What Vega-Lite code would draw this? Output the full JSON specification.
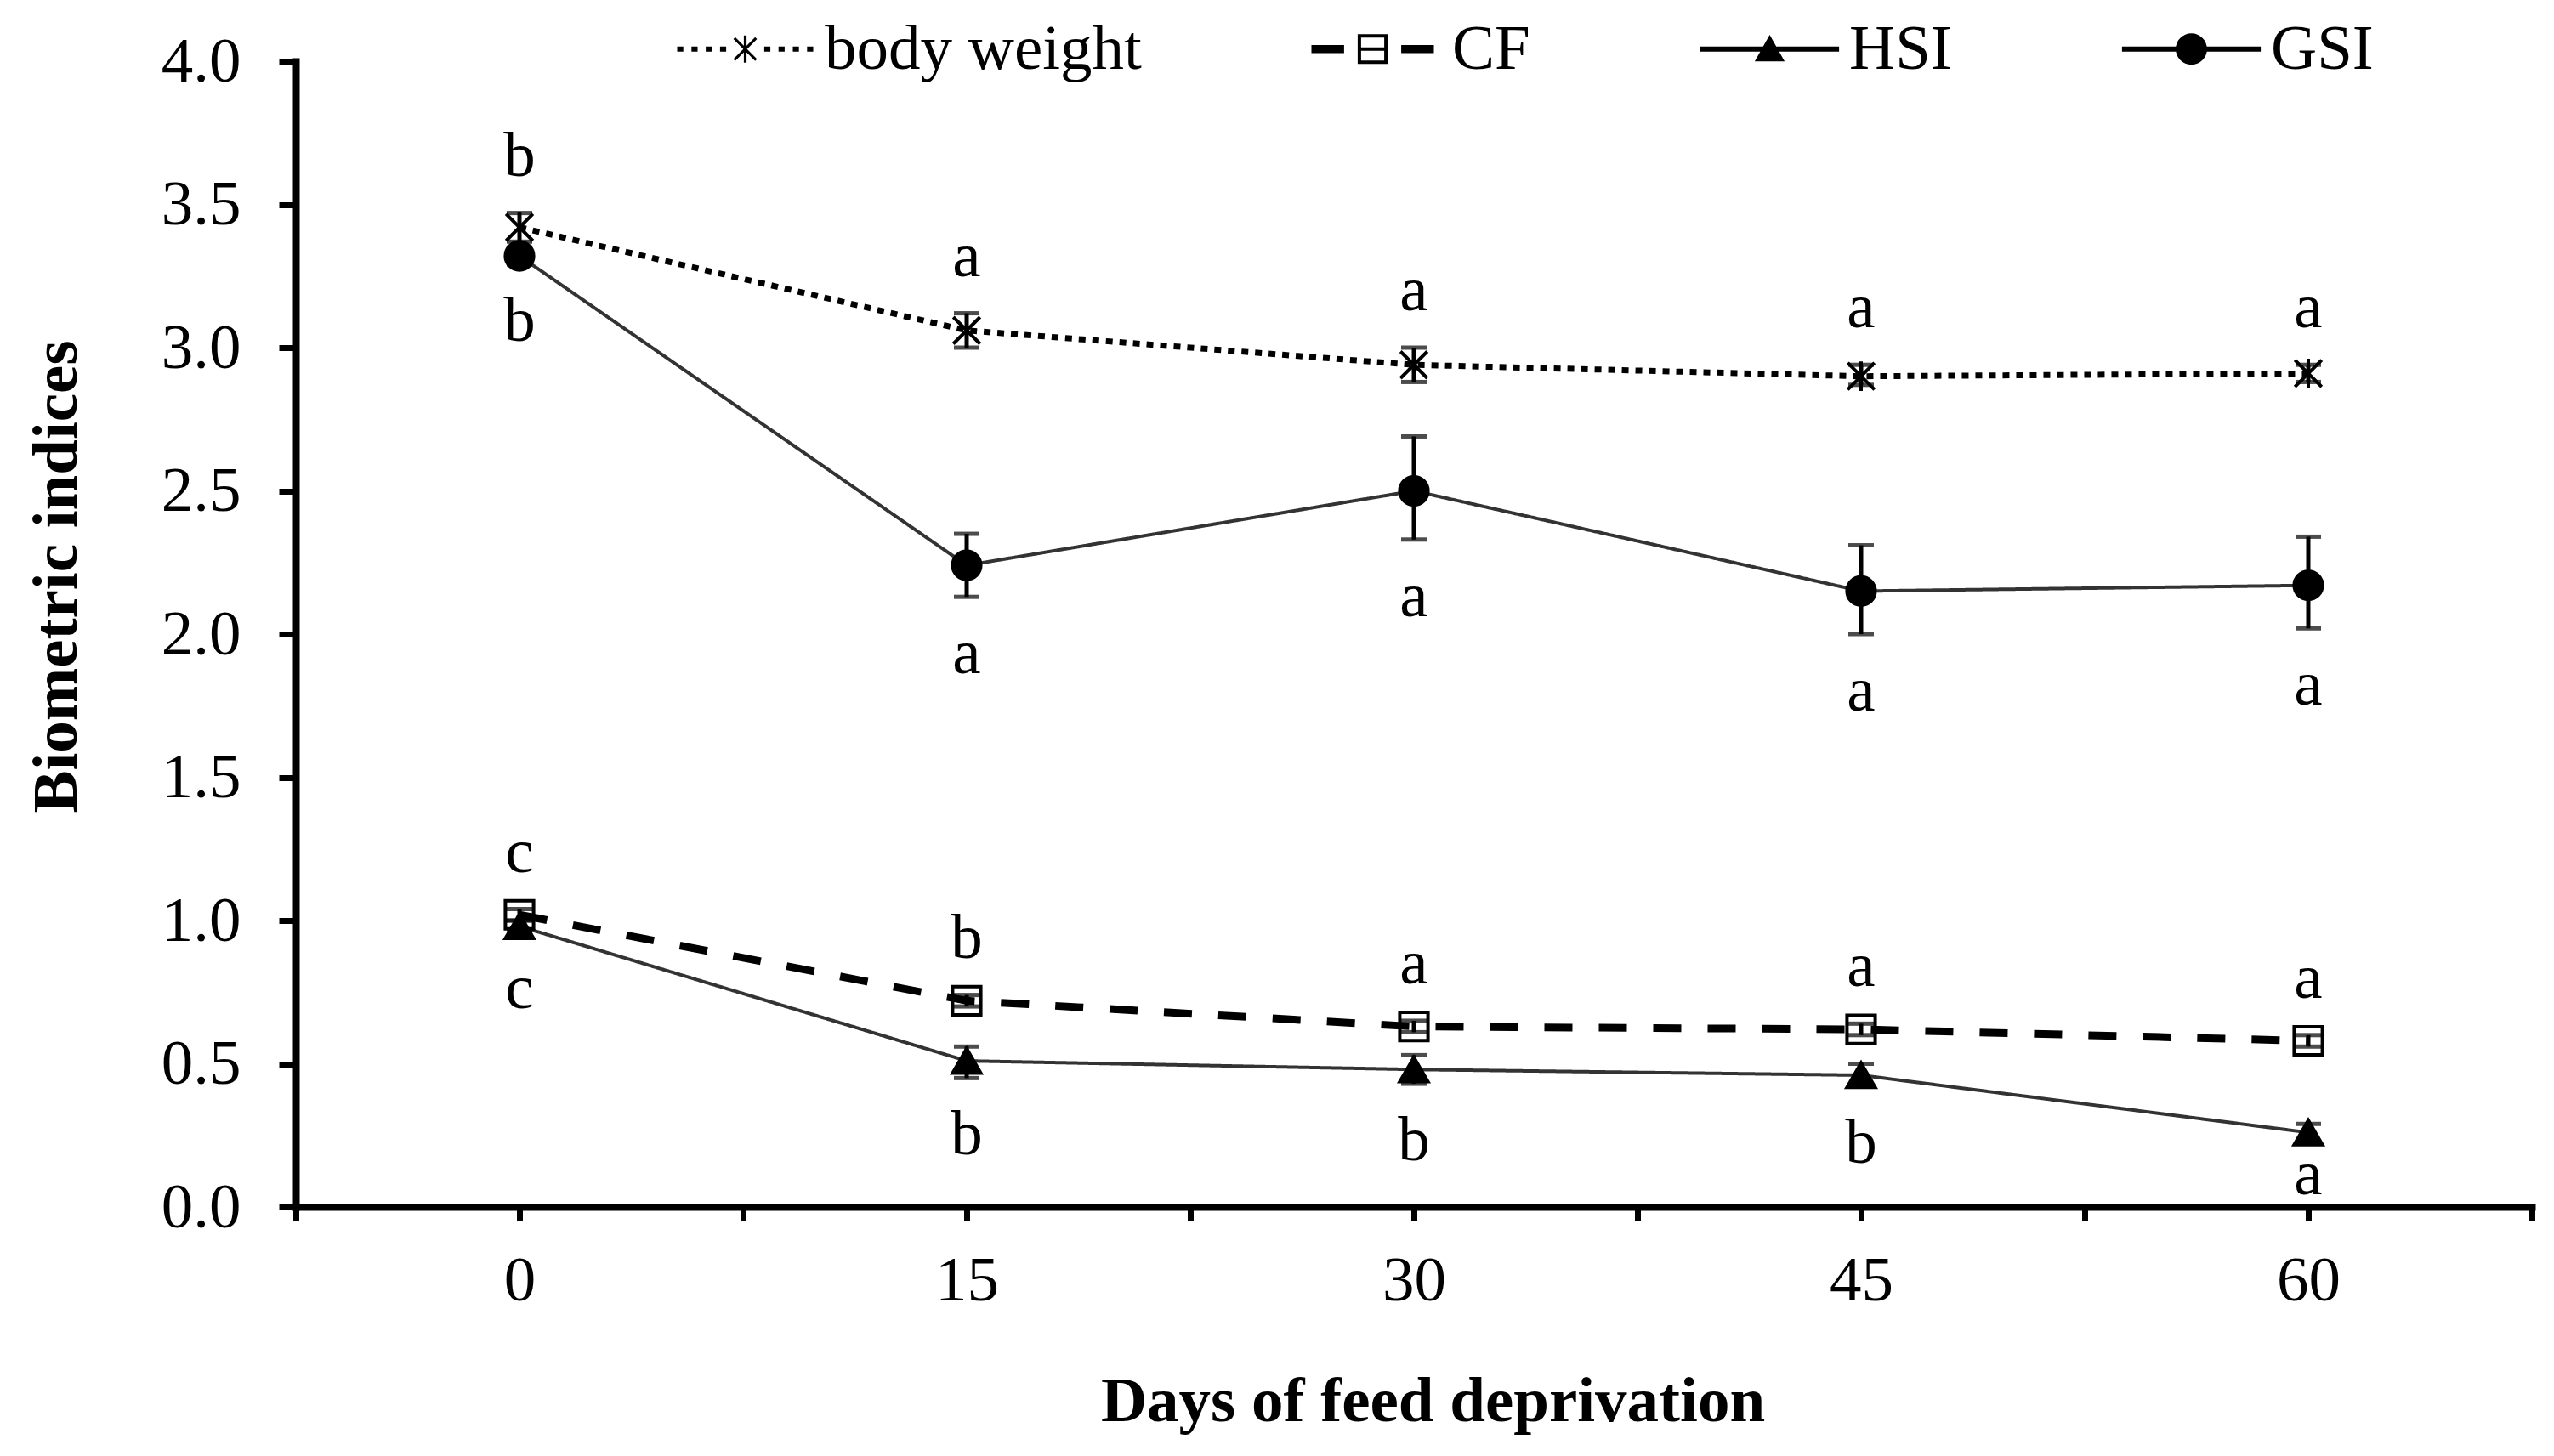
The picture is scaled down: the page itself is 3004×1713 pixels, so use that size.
{
  "$schema": "https://vega.github.io/schema/vega-lite/v6.json",
  "description": "Biometric indices over days of feed deprivation",
  "width": 2630,
  "height": 1348,
  "autosize": {"type": "none"},
  "padding": {"left": 348, "top": 72, "right": 26, "bottom": 293},
  "background": "white",
  "config": {
    "font": "Liberation Serif",
    "view": {"stroke": null},
    "axis": {
      "grid": false,
      "domainColor": "black",
      "domainWidth": 8,
      "domainCap": "square",
      "tickColor": "black",
      "tickWidth": 7,
      "labelColor": "black",
      "titleColor": "black",
      "labelFont": "Liberation Serif",
      "titleFont": "Liberation Serif",
      "labelFontSize": 75,
      "titleFontSize": 75,
      "titleFontWeight": "bold"
    }
  },
  "data": {
    "values": [
      {"day": 0, "series": "body weight", "mean": 3.42, "lo": 3.37, "hi": 3.47, "letter": "b"},
      {"day": 15, "series": "body weight", "mean": 3.06, "lo": 3.0, "hi": 3.12, "letter": "a"},
      {"day": 30, "series": "body weight", "mean": 2.94, "lo": 2.88, "hi": 3.0, "letter": "a"},
      {"day": 45, "series": "body weight", "mean": 2.9, "lo": 2.87, "hi": 2.94, "letter": "a"},
      {"day": 60, "series": "body weight", "mean": 2.91, "lo": 2.88, "hi": 2.94, "letter": "a"},
      {"day": 0, "series": "CF", "mean": 1.02, "lo": 1.0, "hi": 1.04, "letter": "c"},
      {"day": 15, "series": "CF", "mean": 0.72, "lo": 0.7, "hi": 0.74, "letter": "b"},
      {"day": 30, "series": "CF", "mean": 0.63, "lo": 0.61, "hi": 0.65, "letter": "a"},
      {"day": 45, "series": "CF", "mean": 0.62, "lo": 0.6, "hi": 0.64, "letter": "a"},
      {"day": 60, "series": "CF", "mean": 0.58, "lo": 0.56, "hi": 0.6, "letter": "a"},
      {"day": 0, "series": "HSI", "mean": 0.98, "lo": 0.96, "hi": 1.0, "letter": "c"},
      {"day": 15, "series": "HSI", "mean": 0.51, "lo": 0.45, "hi": 0.56, "letter": "b"},
      {"day": 30, "series": "HSI", "mean": 0.48, "lo": 0.43, "hi": 0.53, "letter": "b"},
      {"day": 45, "series": "HSI", "mean": 0.46, "lo": 0.42, "hi": 0.5, "letter": "b"},
      {"day": 60, "series": "HSI", "mean": 0.26, "lo": 0.23, "hi": 0.29, "letter": "a"},
      {"day": 0, "series": "GSI", "mean": 3.32, "lo": 3.29, "hi": 3.35, "letter": "b"},
      {"day": 15, "series": "GSI", "mean": 2.24, "lo": 2.13, "hi": 2.35, "letter": "a"},
      {"day": 30, "series": "GSI", "mean": 2.5, "lo": 2.33, "hi": 2.69, "letter": "a"},
      {"day": 45, "series": "GSI", "mean": 2.15, "lo": 2.0, "hi": 2.31, "letter": "a"},
      {"day": 60, "series": "GSI", "mean": 2.17, "lo": 2.02, "hi": 2.34, "letter": "a"}
    ]
  },
  "layer": [
    {
      "mark": {"type": "line"},
      "encoding": {
        "x": {
          "field": "day",
          "type": "quantitative",
          "scale": {"domain": [-7.5, 67.5], "nice": false, "zero": false},
          "axis": {
            "values": [-7.5, 0, 7.5, 15, 22.5, 30, 37.5, 45, 52.5, 60, 67.5],
            "labelExpr": "datum.value % 15 === 0 ? datum.label : ''",
            "tickSize": 16,
            "labelPadding": 34,
            "title": "Days of feed deprivation",
            "titleX": 1337,
            "titleY": 251,
            "titleBaseline": "alphabetic"
          }
        },
        "y": {
          "field": "mean",
          "type": "quantitative",
          "scale": {"domain": [0, 4], "nice": false},
          "axis": {
            "values": [0, 0.5, 1, 1.5, 2, 2.5, 3, 3.5, 4],
            "format": ".1f",
            "tickSize": 20,
            "labelPadding": 45,
            "title": "Biometric indices",
            "titleX": -282,
            "titleY": 606,
            "titleAngle": 270,
            "titleAlign": "center",
            "titleBaseline": "middle"
          }
        },
        "detail": {"field": "series"},
        "stroke": {
          "field": "series",
          "type": "nominal",
          "scale": {"domain": ["body weight", "CF", "HSI", "GSI"], "range": ["black", "black", "#333333", "#333333"]},
          "legend": null
        },
        "strokeDash": {
          "field": "series",
          "type": "nominal",
          "scale": {"domain": ["body weight", "CF", "HSI", "GSI"], "range": [[8, 8], [33, 31], [1, 0], [1, 0]]},
          "legend": null
        },
        "strokeWidth": {
          "field": "series",
          "type": "nominal",
          "scale": {"type": "ordinal", "domain": ["body weight", "CF", "HSI", "GSI"], "range": [7, 9, 4, 4]},
          "legend": null
        }
      }
    },
    {
      "mark": {"type": "errorbar", "ticks": {"size": 30}, "thickness": 5, "color": "black"},
      "encoding": {
        "x": {"field": "day", "type": "quantitative"},
        "y": {"field": "lo", "type": "quantitative", "title": "Biometric indices"},
        "y2": {"field": "hi"}
      }
    },
    {
      "mark": {"type": "point", "size": 1100, "strokeWidth": 4, "stroke": "black", "opacity": 1},
      "encoding": {
        "x": {"field": "day", "type": "quantitative"},
        "y": {"field": "mean", "type": "quantitative"},
        "shape": {
          "field": "series",
          "type": "nominal",
          "scale": {
            "domain": ["body weight", "CF", "HSI", "GSI"],
            "range": ["M0,-1.05L0,1.05M-0.95,-0.95L0.95,0.95M-0.95,0.95L0.95,-0.95", "square", "triangle-up", "circle"]
          },
          "legend": null
        },
        "fill": {
          "field": "series",
          "type": "nominal",
          "scale": {"domain": ["body weight", "CF", "HSI", "GSI"], "range": ["transparent", "transparent", "black", "black"]},
          "legend": null
        }
      }
    },
    {
      "transform": [{"filter": "false"}],
      "mark": {"type": "point", "filled": true, "color": "black", "size": 1024, "strokeWidth": 0},
      "encoding": {
        "x": {"field": "day", "type": "quantitative"},
        "y": {"field": "mean", "type": "quantitative"},
        "shape": {
          "field": "series",
          "type": "nominal",
          "scale": {
            "domain": ["body weight", "CF", "HSI", "GSI"],
            "range": [
              "M-5,-0.19L-4.55,-0.19L-4.55,0.19L-5,0.19ZM-3.95,-0.19L-3.5,-0.19L-3.5,0.19L-3.95,0.19ZM-2.9,-0.19L-2.45,-0.19L-2.45,0.19L-2.9,0.19ZM-1.85,-0.19L-1.4,-0.19L-1.4,0.19L-1.85,0.19ZM1.4,-0.19L1.85,-0.19L1.85,0.19L1.4,0.19ZM2.45,-0.19L2.9,-0.19L2.9,0.19L2.45,0.19ZM3.5,-0.19L3.95,-0.19L3.95,0.19L3.5,0.19ZM4.55,-0.19L5,-0.19L5,0.19L4.55,0.19ZM-0.1,-1L0.1,-1L0.1,1L-0.1,1ZM-0.73,-0.87L0.87,0.73L0.73,0.87L-0.87,-0.73ZM-0.87,0.73L0.73,-0.87L0.87,-0.73L-0.73,0.87Z",
              "M-4.5,-0.3L-2.1,-0.3L-2.1,0.3L-4.5,0.3ZM2.1,-0.3L4.5,-0.3L4.5,0.3L2.1,0.3ZM-1.1,-1.1L1.1,-1.1L1.1,1.1L-1.1,1.1ZM-0.85,-0.85L-0.85,0.85L0.85,0.85L0.85,-0.85ZM-0.85,-0.12L0.85,-0.12L0.85,0.12L-0.85,0.12Z",
              "M-5.1,-0.18L5.1,-0.18L5.1,0.18L-5.1,0.18ZM0,-1.05L1.1,0.9L-1.1,0.9Z",
              "M-5.1,-0.18L5.1,-0.18L5.1,0.18L-5.1,0.18ZM-1.15,0A1.15,1.15 0 1,1 1.15,0A1.15,1.15 0 1,1 -1.15,0Z"
            ]
          },
          "legend": {
            "orient": "none",
            "direction": "horizontal",
            "legendX": 491,
            "legendY": -52,
            "title": null,
            "labelFont": "Liberation Serif",
            "labelFontSize": 75,
            "labelColor": "black",
            "labelLimit": 0,
            "labelOffset": 56,
            "columnPadding": 199,
            "symbolSize": 1024,
            "symbolOpacity": 1,
            "symbolFillColor": "black",
            "symbolStrokeWidth": 0
          }
        }
      }
    },
    {
      "transform": [{"filter": "datum.series === 'body weight' || datum.series === 'CF'"}],
      "mark": {"type": "text", "dy": -67, "fontSize": 75, "baseline": "middle", "color": "black"},
      "encoding": {
        "x": {"field": "day", "type": "quantitative"},
        "y": {"field": "hi", "type": "quantitative"},
        "text": {"field": "letter"}
      }
    },
    {
      "transform": [{"filter": "datum.series === 'GSI' || (datum.series === 'HSI' && datum.day < 60)"}],
      "mark": {"type": "text", "dy": 67, "fontSize": 75, "baseline": "middle", "color": "black"},
      "encoding": {
        "x": {"field": "day", "type": "quantitative"},
        "y": {"field": "lo", "type": "quantitative"},
        "text": {"field": "letter"}
      }
    },
    {
      "transform": [{"filter": "datum.series === 'HSI' && datum.day === 60"}],
      "mark": {"type": "text", "dy": 40, "fontSize": 75, "baseline": "middle", "color": "black"},
      "encoding": {
        "x": {"field": "day", "type": "quantitative"},
        "y": {"field": "lo", "type": "quantitative"},
        "text": {"field": "letter"}
      }
    }
  ],
  "resolve": {"scale": {"shape": "independent"}}
}
